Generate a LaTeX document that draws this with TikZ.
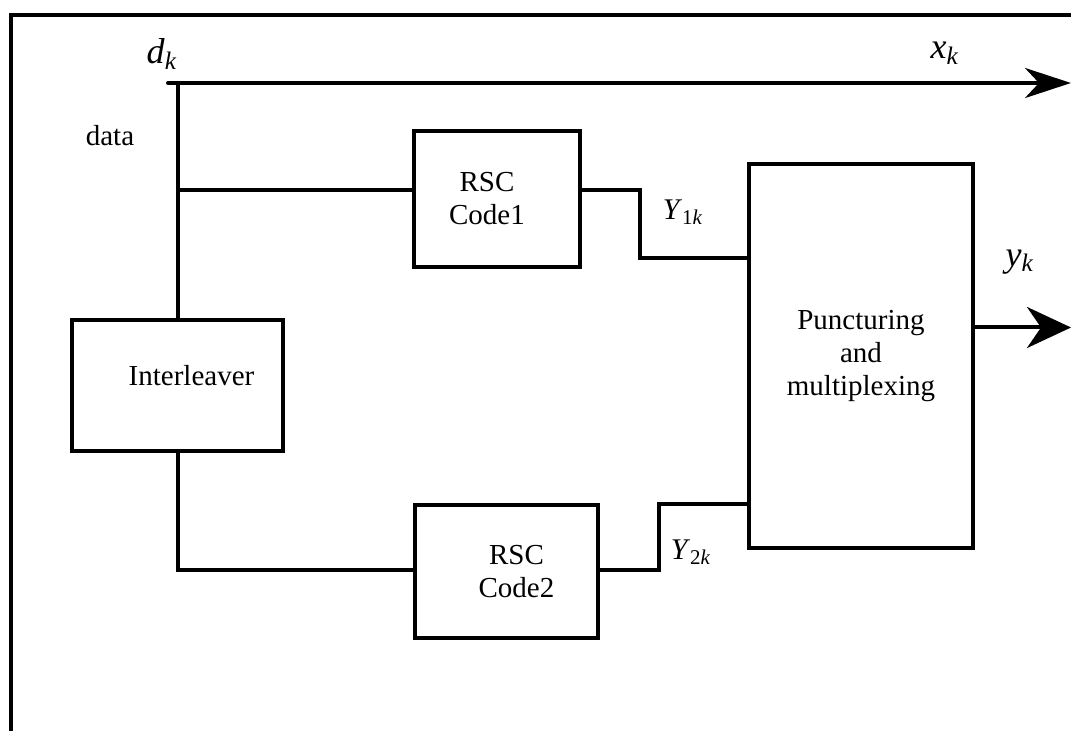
\documentclass[tikz,border=0pt]{standalone}
\usepackage{fontspec}
\setmainfont{Liberation Serif}
\usetikzlibrary{positioning, arrows.meta}

\newcommand{\sig}[2]{\textit{#1}\textsubscript{#2}}

\begin{document}
\begin{tikzpicture}[x=0.5pt, y=-0.5pt, line width=2pt,
    blk/.style={rectangle, draw, line width=2pt, inner sep=0pt, align=center,
                font=\fontsize{14.5}{16.5}\selectfont},
    lbl/.style={inner sep=0pt, font=\fontsize{18}{20}\selectfont},
    sublbl/.style={inner sep=0pt, font=\fontsize{15}{17}\selectfont},
    outarrow/.style={-{Stealth[length=23pt, width=15pt, inset=7pt]}}]
    \useasboundingbox (0,0) rectangle (1071,731);

    % outer frame (only top and left edges are in view)
    \draw (11,740) -- (11,15) -- (1080,15);

    % blocks
    \node[blk, minimum width=105.5pt, minimum height=65.5pt, text depth=10pt] (intl) at (177.5,385.5) {\hspace*{14pt}Interleaver};
    \node[blk, minimum width=83pt, minimum height=68pt] (rsc1) at (497,199) {\hspace*{-10pt}RSC\\\hspace*{-10pt}Code1};
    \node[blk, minimum width=91.5pt, minimum height=66.5pt] (rsc2) at (506.5,571.5) {\hspace*{10pt}RSC\\\hspace*{10pt}Code2};
    \node[blk, minimum width=112pt, minimum height=192pt] (punc) at (861,356) {Puncturing\\and\\multiplexing};

    % junction points
    \coordinate (din) at (168,83);
    \coordinate (xout) at (1071,83);
    \coordinate (tap1) at (177.5,190);
    \coordinate (tap2) at (177.5,570);
    \coordinate (j1) at (639.5,258);
    \coordinate (j2) at (659,504);
    \coordinate (yout) at (1071,327.5);

    % systematic output
    \draw[outarrow, line cap=round] (din) -- (xout);
    \draw (din -| tap1) -- (intl.north);

    % branch to encoder 1
    \draw (tap1) -- (tap1 -| rsc1.west);
    \draw (rsc1.east |- tap1) -| (j1) -- (j1 -| punc.west);

    % branch to encoder 2
    \draw (intl.south) |- (tap2 -| rsc2.west);
    \draw (rsc2.east |- tap2) -| (j2) -- (j2 -| punc.west);

    % coded output
    \draw[-{Stealth[length=22pt, width=20.5pt, inset=7pt]}] (punc.east |- yout) -- (yout);

    % labels
    \node[lbl] (dk) at (162,54) {\sig{d}{\textit{k}}};
    \node[lbl] (xk) at (945,53) {\sig{x}{\textit{k}}};
    \node[lbl] (yk) at (1020,262) {\sig{y}{\textit{k}}};
    \node[sublbl] (y1k) at (683,212) {\sig{Y}{1\textit{k}}};
    \node[sublbl] (y2k) at (691,552) {\sig{Y}{2\textit{k}}};
    \node[inner sep=0pt, font=\fontsize{14.5}{16.5}\selectfont] (data) at (110,136) {data};
\end{tikzpicture}
\end{document}
